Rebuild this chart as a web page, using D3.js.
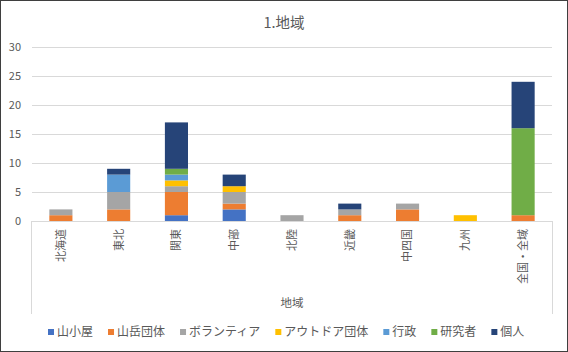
<!DOCTYPE html>
<html><head><meta charset="utf-8">
<script src="https://cdn.jsdelivr.net/npm/d3@7"></script>
<style>
body{margin:0;background:#fff;}
svg{display:block;font-family:"Noto Sans CJK JP","Noto Sans",sans-serif;}
</style></head>
<body>
<svg id="chart" width="568" height="352"></svg>
<script>
const categories = ["北海道","東北","関東","中部","北陸","近畿","中四国","九州","全国・全域"];
const seriesNames = ["山小屋","山岳団体","ボランティア","アウトドア団体","行政","研究者","個人"];
const 山小屋 =       [0,0,1,2,0,0,0,0,0];
const 山岳団体 =     [1,2,4,1,0,1,2,0,1];
const ボランティア = [1,3,1,2,1,1,1,0,0];
const アウトドア団体 = [0,0,1,1,0,0,0,1,0];
const 行政 =         [0,3,1,0,0,0,0,0,0];
const 研究者 =       [0,0,1,0,0,0,0,0,15];
const 個人 =         [0,1,8,2,0,1,0,0,8];
const seriesValues = [山小屋,山岳団体,ボランティア,アウトドア団体,行政,研究者,個人];
const colors = ["#4472C4","#ED7D31","#A5A5A5","#FFC000","#5B9BD5","#70AD47","#264478"];
const yTicks = [0,5,10,15,20,25,30];

const svg = d3.select("#chart");
const W = 568, H = 352;
const plot = {left:32, right:552, top:47, bottom:221};

svg.append("rect").attr("x",0.5).attr("y",0.5).attr("width",W-1).attr("height",H-1)
  .attr("fill","#fff").attr("stroke","#3f3f3f");

const x = d3.scaleBand().domain(categories).range([plot.left, plot.right])
  .paddingInner(0.6).paddingOuter(0.3);
const y = d3.scaleLinear().domain([0,30]).range([plot.bottom, plot.top]);

// gridlines
svg.append("g").selectAll("line").data(yTicks.filter(d=>d>0)).join("line")
  .attr("x1",plot.left).attr("x2",plot.right)
  .attr("y1",d=>Math.round(y(d))+0.5).attr("y2",d=>Math.round(y(d))+0.5)
  .attr("stroke","#d9d9d9").attr("stroke-width",1);

// y axis labels
svg.append("g").selectAll("text").data(yTicks).join("text")
  .attr("x",21).attr("y",d=>y(d)).attr("dy","0.35em")
  .attr("text-anchor","end").attr("font-size",11).attr("fill","#595959")
  .text(d=>d);

// stacked data
const rows = categories.map((c,i)=>{
  const o = {cat:c};
  seriesNames.forEach((s,j)=>o[s]=seriesValues[j][i]);
  return o;
});
const stack = d3.stack().keys(seriesNames)(rows);
svg.append("g").selectAll("g").data(stack).join("g")
  .attr("fill",(d,i)=>colors[i])
  .selectAll("rect").data(d=>d).join("rect")
  .attr("x",d=>x(d.data.cat)).attr("width",x.bandwidth())
  .attr("y",d=>y(d[1])).attr("height",d=>y(d[0])-y(d[1]));

// x axis line and box
const axisG = svg.append("g").attr("stroke","#d9d9d9").attr("stroke-width",1);
axisG.append("line").attr("x1",plot.left).attr("x2",plot.right+0.5)
  .attr("y1",plot.bottom+0.5).attr("y2",plot.bottom+0.5);
axisG.append("line").attr("x1",plot.left-0.5).attr("x2",plot.left-0.5)
  .attr("y1",plot.bottom).attr("y2",314);
axisG.append("line").attr("x1",plot.right+0.5).attr("x2",plot.right+0.5)
  .attr("y1",plot.bottom).attr("y2",314);

// rotated category labels (reading bottom to top)
svg.append("g").selectAll("text").data(categories).join("text")
  .attr("transform",d=>`translate(${x(d)+x.bandwidth()/2},229) rotate(-90)`)
  .attr("text-anchor","end").attr("dy","0.35em")
  .attr("font-size",11).attr("fill","#595959")
  .text(d=>d);

// axis title
svg.append("text").attr("x",(plot.left+plot.right)/2).attr("y",307)
  .attr("text-anchor","middle").attr("font-size",11.5).attr("fill","#595959").text("地域");

// title
svg.append("text").attr("x",284).attr("y",28)
  .attr("text-anchor","middle").attr("font-size",14.5).attr("fill","#595959").text("1.地域");

// legend
const leg = svg.append("g").attr("font-size",12).attr("fill","#595959");
let lx = 48;
seriesNames.forEach((s,i)=>{
  leg.append("rect").attr("x",lx).attr("y",329).attr("width",6).attr("height",6).attr("fill",colors[i]);
  const t = leg.append("text").attr("x",lx+9).attr("y",332).attr("dy","0.35em").text(s);
  lx += 9 + t.node().getComputedTextLength() + 15;
});
</script>
</body></html>
